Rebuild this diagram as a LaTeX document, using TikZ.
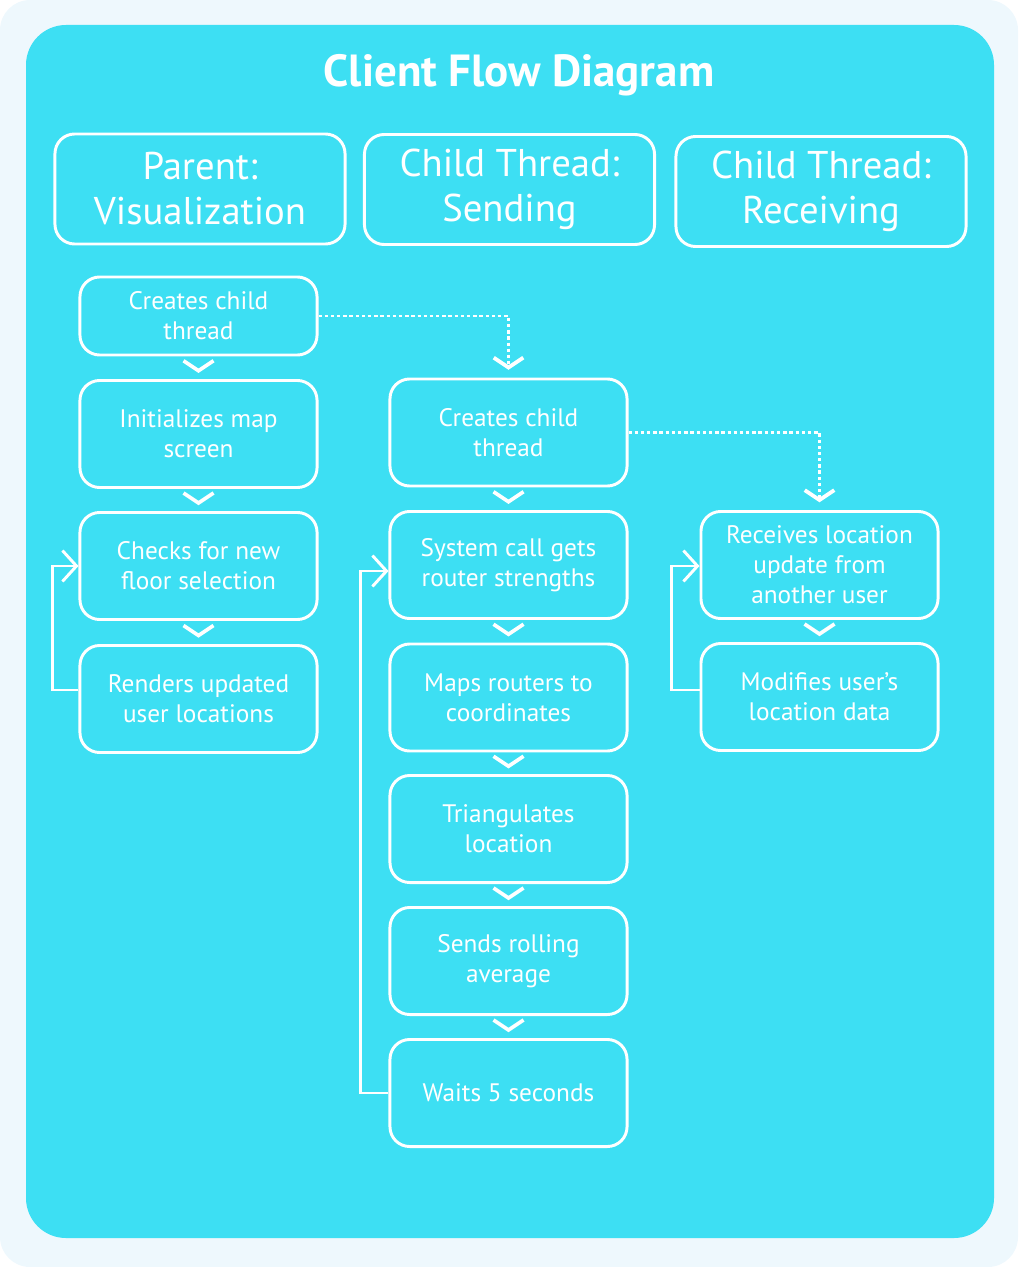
\documentclass[tikz,border=0pt]{standalone}
\usepackage{fontspec}
\setmainfont{PT Sans}
\usetikzlibrary{arrows.meta,calc}

\definecolor{pagebg}{RGB}{238,248,253}
\definecolor{panel}{RGB}{61,223,243}

\tikzset{title/.style={font=\fontsize{32}{38}\selectfont\bfseries,text=white,anchor=base,inner sep=0pt},
header/.style={draw=white,line width=2.1pt,rounded corners=14pt,minimum width=7.25cm,minimum height=2.75cm,inner sep=0pt,align=center,text=white,font=\fontsize{27.5}{32}\selectfont},
stepbox/.style={draw=white,line width=2.1pt,rounded corners=14pt,minimum width=5.925cm,minimum height=2.675cm,inner sep=0pt,align=center,text=white,font=\fontsize{18}{21.3}\selectfont},
chev/.style={draw=white,line width=2.6pt,miter limit=4},
thread line/.style={draw=white,line width=2.1pt,dash pattern=on 2.4pt off 2pt,shorten >=5.5pt,-{Straight Barb[length=7pt,width=21pt,line width=0.6pt 1]}},
loop line/.style={draw=white,line width=2.1pt,-{Straight Barb[length=10pt,width=22pt]}}}

\begin{document}
\begin{tikzpicture}[x=0.025cm,y=-0.025cm]
\useasboundingbox (0,0) rectangle (1018,1267);
\fill[pagebg,rounded corners=0.75cm] (0,0) rectangle (1018,1267);
\fill[panel,rounded corners=1cm] (26,25) rectangle (994,1238);

%% Coordinates of nodes.
\coordinate (t) at (519,87);
\coordinate (hp) at (200,189);
\coordinate (hs) at (509.5,189.5);
\coordinate (hr) at (821,191.5);
\coordinate (p1) at (198.5,316);
\coordinate (p2) at (198.5,434);
\coordinate (p3) at (198.5,566);
\coordinate (p4) at (198.5,699);
\coordinate (s1) at (508.5,432.5);
\coordinate (s2) at (508.5,565);
\coordinate (s3) at (508.5,697.5);
\coordinate (s4) at (508.5,829);
\coordinate (s5) at (508.5,961);
\coordinate (s6) at (508.5,1093);
\coordinate (r1) at (819.5,565);
\coordinate (r2) at (819.5,697);

%% title
\node [title] (ttl) at (t) {Client Flow Diagram};

%% column headers
\node [header] (hdrp) at (hp) {Parent:\\Visualization};
\node [header] (hdrs) at (hs) {Child Thread:\\Sending};
\node [header] (hdrr) at (hr) {Child Thread:\\Receiving};

%% parent column
\node [stepbox,minimum height=1.95cm] (par1) at (p1) {Creates child\\thread};
\node [stepbox] (par2) at (p2) {Initializes map\\screen};
\node [stepbox] (par3) at (p3) {Checks for new\\floor selection};
\node [stepbox] (par4) at (p4) {Renders updated\\user locations};

%% sending column
\node [stepbox] (snd1) at (s1) {Creates child\\thread};
\node [stepbox] (snd2) at (s2) {System call gets\\router strengths};
\node [stepbox] (snd3) at (s3) {Maps routers to\\coordinates};
\node [stepbox] (snd4) at (s4) {Triangulates\\location};
\node [stepbox] (snd5) at (s5) {Sends rolling\\average};
\node [stepbox] (snd6) at (s6) {Waits 5 seconds};

%% receiving column
\node [stepbox] (rcv1) at (r1) {Receives location\\update from\\another user};
\node [stepbox] (rcv2) at (r2) {Modifies user's\\location data};

%% chevrons between steps
\foreach \a/\b in {par1/par2,par2/par3,par3/par4,snd1/snd2,snd2/snd3,snd3/snd4,snd4/snd5,snd5/snd6,rcv1/rcv2}
  \draw [chev] ($(\a.south)!0.5!(\b.north)+(0,-2)$) +(-15,-5) -- +(0,5) -- +(15,-5);

%% thread spawns
\draw [thread line] (par1.east) -| (snd1.north);
\draw [thread line] (snd1.east) -| (rcv1.north);

%% loops
\draw [loop line] ($(par4.west)+(0,-9)$) -- ++(-26,0) |- (par3.west);
\draw [loop line] (snd6.west) -- ++(-28,0) |- ($(snd2.west)+(0,6)$);
\draw [loop line] ($(rcv2.west)+(0,-7)$) -- ++(-28,0) |- ($(rcv1.west)+(0,1)$);

\end{tikzpicture}
\end{document}
